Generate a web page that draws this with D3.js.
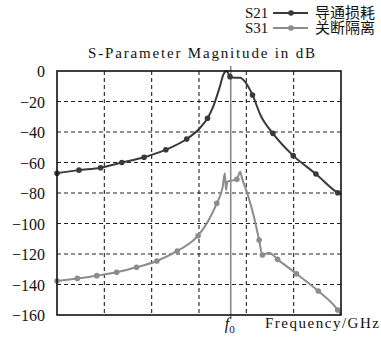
<!DOCTYPE html>
<html>
<head>
<meta charset="utf-8">
<script src="https://cdn.jsdelivr.net/npm/d3@7"></script>
<style>
  body { margin: 0; background: #fff; }
  text { fill: #111; }
  .serif { font-family: "Liberation Serif", "Times New Roman", serif; }
  .cjk { font-family: "Noto Sans CJK SC", sans-serif; }
</style>
</head>
<body>
<svg id="chart" width="381" height="339"></svg>
<script>
// values (x in grid units, f0 between 3rd and 4th line)
const yTicks = [0, -20, -40, -60, -80, -100, -120, -140, -160];
const xGrid = [1, 2, 3, 4, 5];
const f0 = 3.67;

const s21X = [0, 0.465, 0.92, 1.37, 1.84, 2.30, 2.74, 3.0, 3.18, 3.30, 3.44, 3.52, 3.585, 3.655, 3.75, 3.87, 3.97, 4.13, 4.3, 4.56, 4.99, 5.47, 5.93, 6];
const s21Y = [-67, -65, -63.4, -60, -56.6, -51.6, -44.6, -38, -31, -23.4, -10.3, -2, 0, -3.7, -4.5, -4.4, -7, -15.7, -29, -40.9, -55.5, -67.5, -79.8, -81];
const s21Marks = [0, 1, 2, 3, 4, 5, 6, 8, 13, 17, 19, 20, 21, 22];

const s31X = [0, 0.43, 0.84, 1.26, 1.68, 2.11, 2.54, 2.98, 3.2, 3.375, 3.5, 3.545, 3.57, 3.60, 3.80, 3.87, 3.91, 4.02, 4.16, 4.27, 4.34, 4.48, 4.66, 5.06, 5.52, 5.93, 6];
const s31Y = [-137.7, -136, -134.2, -132, -128.7, -124.6, -118, -108, -98, -86.8, -76, -67, -78, -72.6, -71, -66, -70.4, -80.2, -95.5, -110.8, -120.7, -119.1, -123.5, -133, -144.3, -156.7, -160];
const s31Marks = [0, 1, 2, 3, 4, 5, 6, 7, 9, 14, 19, 20, 22, 23, 24, 25];

const seriesNames = ["S21", "S31"];
const seriesLabels = ["导通损耗", "关断隔离"];
const colors = ["#3a3a3a", "#8c8c8c"];

const svg = d3.select("#chart");
const margin = { top: 71, right: 40, bottom: 24, left: 57 };
const width = 341 - margin.left;
const height = 315 - margin.top;

const x = d3.scaleLinear().domain([0, 6]).range([0, width]);
const y = d3.scaleLinear().domain([-160, 0]).range([height, 0]);

const g = svg.append("g").attr("transform", `translate(${margin.left},${margin.top})`);

// grid
g.selectAll(".hgrid")
  .data(yTicks.filter(d => d !== 0 && d !== -160))
  .enter().append("line")
  .attr("x1", 0).attr("x2", width)
  .attr("y1", d => y(d)).attr("y2", d => y(d))
  .attr("stroke", "#222").attr("stroke-width", 1.1)
  .attr("stroke-dasharray", "4,3");

g.selectAll(".vgrid")
  .data(xGrid)
  .enter().append("line")
  .attr("x1", d => x(d)).attr("x2", d => x(d))
  .attr("y1", 0).attr("y2", height)
  .attr("stroke", "#222").attr("stroke-width", 1.1)
  .attr("stroke-dasharray", "4,3");

// y axis labels
const yAxis = g.append("g")
  .call(d3.axisLeft(y).tickValues(yTicks).tickSize(0).tickPadding(12)
    .tickFormat(d => d === 0 ? "0" : "\u2212" + Math.abs(d)));
yAxis.select(".domain").remove();
yAxis.attr("font-family", null).attr("font-size", null);
yAxis.selectAll("text")
  .attr("class", "serif")
  .attr("font-size", 16)
  .attr("dy", "0.35em")
  .attr("fill", "#111");

// f0 marker line
g.append("line")
  .attr("x1", x(f0)).attr("x2", x(f0))
  .attr("y1", -5).attr("y2", height + 4)
  .attr("stroke", "#8a8a8a").attr("stroke-width", 1.6);

const line = d3.line()
  .x(d => x(d[0]))
  .y(d => y(d[1]))
  .curve(d3.curveMonotoneX);

const series = [
  { xs: s21X, ys: s21Y, marks: s21Marks },
  { xs: s31X, ys: s31Y, marks: s31Marks }
];

series.forEach((s, i) => {
  const pts = s.xs.map((v, k) => [v, s.ys[k]]);
  g.append("path")
    .datum(pts)
    .attr("fill", "none")
    .attr("stroke", colors[i])
    .attr("stroke-width", 2)
    .attr("d", line);
  g.selectAll(".m" + i)
    .data(s.marks.map(k => pts[k]))
    .enter().append("circle")
    .attr("cx", d => x(d[0]))
    .attr("cy", d => y(d[1]))
    .attr("r", 2.8)
    .attr("fill", colors[i]);
});

// frame
g.append("rect")
  .attr("x", 0).attr("y", 0)
  .attr("width", width).attr("height", height)
  .attr("fill", "none")
  .attr("stroke", "#111").attr("stroke-width", 1.6);

// title (serif, spaced out like the monospaced original)
svg.append("text")
  .attr("class", "serif")
  .attr("x", 88).attr("y", 58)
  .attr("font-size", 15)
  .attr("textLength", 227)
  .attr("lengthAdjust", "spacing")
  .text("S-Parameter Magnitude in dB");

// x labels
const f0Label = svg.append("text")
  .attr("class", "serif")
  .attr("x", margin.left + x(f0) - 6).attr("y", 329)
  .attr("font-size", 16);
f0Label.append("tspan").attr("font-style", "italic").text("f");
f0Label.append("tspan").attr("font-size", 11).attr("dy", 4).text("0");

svg.append("text")
  .attr("class", "serif")
  .attr("x", 265).attr("y", 328)
  .attr("font-size", 15)
  .attr("textLength", 114)
  .attr("lengthAdjust", "spacing")
  .text("Frequency/GHz");

// legend: names and labels as two-line text blocks
const legendRow = 15;
const nameText = svg.append("text").attr("class", "serif").attr("font-size", 15);
const labelText = svg.append("text").attr("class", "cjk").attr("font-size", 15);
seriesNames.forEach((name, i) => {
  const ly = 13 + i * legendRow;
  nameText.append("tspan").attr("x", 245).attr("y", ly + 5).text(name);
  labelText.append("tspan").attr("x", 315).attr("y", ly + 5).text(seriesLabels[i]);
  svg.append("line")
    .attr("x1", 273).attr("x2", 308)
    .attr("y1", ly).attr("y2", ly)
    .attr("stroke", colors[i]).attr("stroke-width", 2);
  svg.append("circle")
    .attr("cx", 291).attr("cy", ly).attr("r", 2.8)
    .attr("fill", colors[i]);
});
</script>
</body>
</html>
